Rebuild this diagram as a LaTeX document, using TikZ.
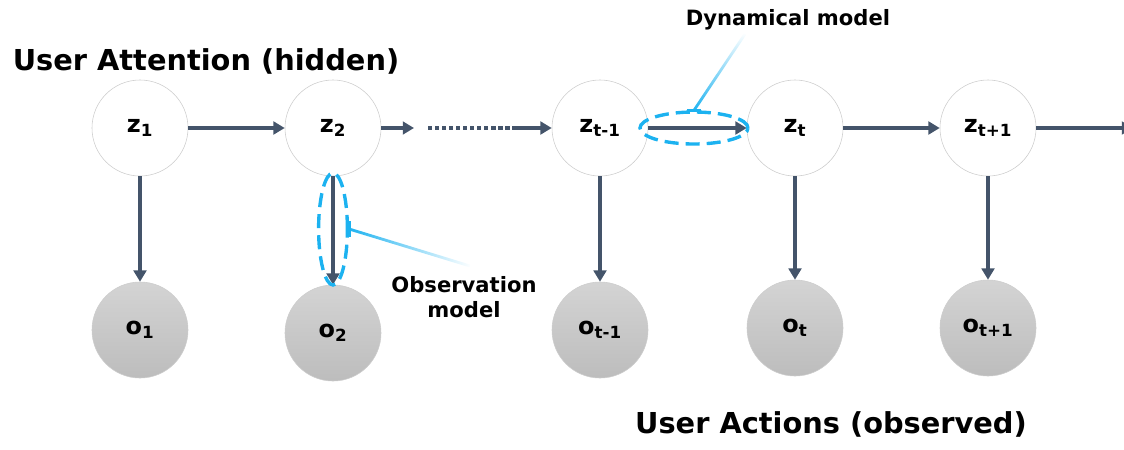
\documentclass[tikz,border=0pt]{standalone}
\usepackage{fontspec}
\setmainfont{DejaVu Sans}
\usepackage{tikz}
\usetikzlibrary{arrows.meta,shapes.geometric,fadings}

\definecolor{linkgray}{RGB}{68,84,106}
\definecolor{callblue}{RGB}{28,178,240}
\definecolor{ringgray}{RGB}{205,205,205}

\tikzset{
  hidden/.style={circle, draw=ringgray, fill=white, minimum size=2.4cm, inner sep=0pt,
    font=\bfseries\fontsize{17}{19}\selectfont},
  observed/.style={circle, draw=ringgray, top color=black!17, bottom color=black!26,
    minimum size=2.4cm, inner sep=0pt, font=\bfseries\fontsize{17}{19}\selectfont},
  link/.style={draw=linkgray, line width=2.8pt, -{Triangle[length=8pt,width=9pt]}},
  dots/.style={draw=linkgray, line width=2.8pt, dash pattern=on 3pt off 2pt},
  ring/.style={ellipse, draw=callblue, line width=2.4pt, dash pattern=on 10pt off 5pt, inner sep=0pt},
  pointer/.style={draw=callblue, line width=2pt},
  title/.style={font=\bfseries\fontsize{20.5}{24}\selectfont},
  note/.style={font=\bfseries\fontsize{15}{18}\selectfont, align=center}
}

\begin{document}
\begin{tikzpicture}[x=0.025cm, y=-0.025cm]
    \useasboundingbox (0, 0) rectangle (1124, 449);

    % hidden states
    \node[hidden] (z1) at (140, 128) {z\textsubscript{1}};
    \node[hidden] (z2) at (333, 128) {z\textsubscript{2}};
    \node[hidden] (ztm) at (600, 128) {z\textsubscript{t-1}};
    \node[hidden] (zt) at (795, 128) {z\textsubscript{t}};
    \node[hidden] (ztp) at (988, 128) {z\textsubscript{t+1}};

    % observations
    \node[observed] (o1) at (140, 330) {o\textsubscript{1}};
    \node[observed] (o2) at (333, 333) {o\textsubscript{2}};
    \node[observed] (otm) at (600, 330) {o\textsubscript{t-1}};
    \node[observed] (ot) at (795, 328) {o\textsubscript{t}};
    \node[observed] (otp) at (988, 328) {o\textsubscript{t+1}};

    \coordinate (dotA) at (414, 128);
    \coordinate (dotB) at (428, 128);
    \coordinate (dotC) at (513, 128);
    \coordinate (edge) at (1133, 128);

    \draw[link] (z1) -- (z2);
    \draw[link] (z2) -- (dotA);
    \draw[dots] (dotB) -- (dotC);
    \draw[link] (dotC) -- (ztm);
    \draw[link] (ztm) -- (zt);
    \draw[link] (zt) -- (ztp);
    \draw[link] (ztp) -- (edge);

    \draw[link] (z1) -- (o1);
    \draw[link] (z2) -- (o2);
    \draw[link] (ztm) -- (otm);
    \draw[link] (zt) -- (ot);
    \draw[link] (ztp) -- (otp);

    % callouts
    \node[ring, minimum width=2.7cm, minimum height=0.8cm] (dynring) at (694, 128) {};
    \node[ring, minimum width=0.72cm, minimum height=2.8cm] (obsring) at (333, 229) {};

    \coordinate (dyntip) at (745, 34);
    \coordinate (obstip) at (470, 266);
    \draw[pointer, path fading=north] (dynring.north) -- (dyntip);
    \draw[pointer] ([xshift=-5]dynring.north) -- ([xshift=5]dynring.north);
    \draw[pointer, path fading=east] (obsring.east) -- (obstip);
    \draw[pointer] ([yshift=-6]obsring.east) -- ([yshift=6]obsring.east);

    % labels
    \node[title] (hidlab) at (206, 61) {User Attention (hidden)};
    \node[title] (obslab) at (831, 424) {User Actions (observed)};
    \node[note] (dynlab) at (788, 20) {Dynamical model};
    \node[note] (obsnote) at (464, 297) {Observation\\model};

\end{tikzpicture}
\end{document}
